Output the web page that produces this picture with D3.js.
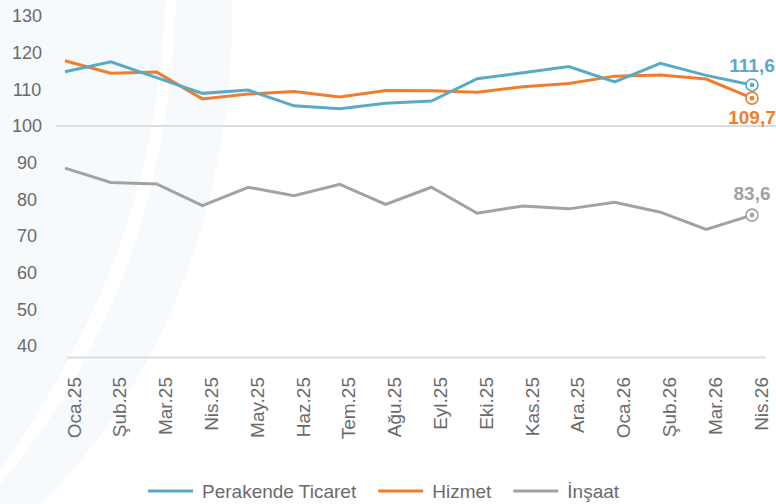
<!DOCTYPE html>
<html>
<head>
<meta charset="utf-8">
<script src="https://cdn.jsdelivr.net/npm/d3@7"></script>
<style>
    html, body { margin: 0; padding: 0; background: #fff; }
    svg { display: block; font-family: "Liberation Sans", Arial, sans-serif; }
</style>
</head>
<body>
<svg id="chart" width="776" height="504"></svg>
<script>
const months = ["Oca.25", "Şub.25", "Mar.25", "Nis.25", "May.25", "Haz.25", "Tem.25", "Ağu.25",
    "Eyl.25", "Eki.25", "Kas.25", "Ara.25", "Oca.26", "Şub.26", "Mar.26", "Nis.26"];

const perakende = [114.8, 117.5, 113.2, 108.9, 109.8, 105.5, 104.7, 106.2, 106.8, 112.9, 114.5, 116.2, 112.0, 117.1, 113.8, 111.2];
const hizmet = [117.8, 114.4, 114.7, 107.4, 108.7, 109.4, 107.9, 109.7, 109.6, 109.2, 110.7, 111.6, 113.6, 113.9, 112.8, 107.6];
const insaat = [88.5, 84.6, 84.2, 78.3, 83.3, 81.0, 84.1, 78.6, 83.3, 76.2, 78.2, 77.4, 79.2, 76.5, 71.8, 75.7];

const seriesNames = ["Perakende Ticaret", "Hizmet", "İnşaat"];
const lastLabels = ["111,6", "109,7", "83,6"];
const yTicks = [40, 50, 60, 70, 80, 90, 100, 110, 120, 130];

const COLORS = ["#59aac6", "#f07d2d", "#a2a2a2"];
const TEXT_COLOR = "#6a6a6a";
const LABEL_DY = [-13, 26, -15];

const svg = d3.select("#chart");

// faint logo watermark behind the plot
const watermark = svg.append("g").attr("fill", "#f6fafc");
watermark.append("path").attr("d", "M0,0 L165,0 C160,150 120,300 0,470 Z");
watermark.append("path").attr("d", "M176,0 L232,0 C236,180 170,380 40,504 L0,504 L0,485 C120,340 170,180 176,0 Z");

const x = d3.scalePoint()
    .domain(months)
    .range([65, 752]);

const y = d3.scaleLinear()
    .domain([37, 133])
    .range([357, 5]);

// reference line at 100
svg.append("line")
    .attr("x1", 56)
    .attr("x2", 776)
    .attr("y1", y(100))
    .attr("y2", y(100))
    .attr("stroke", "#dcdcdc")
    .attr("stroke-width", 2);

// bottom axis line
svg.append("line")
    .attr("x1", 67)
    .attr("x2", 766)
    .attr("y1", 357.5)
    .attr("y2", 357.5)
    .attr("stroke", "#dcdcdc")
    .attr("stroke-width", 2);

svg.append("g")
    .selectAll("text")
    .data(yTicks)
    .join("text")
    .attr("x", 27)
    .attr("y", d => y(d))
    .attr("dy", "0.35em")
    .attr("text-anchor", "middle")
    .attr("font-size", 18)
    .attr("fill", TEXT_COLOR)
    .text(d => d);

svg.append("g")
    .selectAll("text")
    .data(months)
    .join("text")
    .attr("transform", d => `translate(${ x(d) + 9 }, 377) rotate(-90)`)
    .attr("dy", "0.35em")
    .attr("text-anchor", "end")
    .attr("font-size", 19)
    .attr("fill", TEXT_COLOR)
    .text(d => d);

const series = [perakende, hizmet, insaat].map((values, i) => ({
    name: seriesNames[i],
    values,
    color: COLORS[i],
    label: lastLabels[i],
    dy: LABEL_DY[i]
}));

const line = d3.line()
    .x((d, i) => x(months[i]))
    .y(d => y(d));

// draw grey first so the coloured series sit on top
const drawOrder = [series[2], series[1], series[0]];

svg.append("g")
    .selectAll("path")
    .data(drawOrder)
    .join("path")
    .attr("d", d => line(d.values))
    .attr("fill", "none")
    .attr("stroke", d => d.color)
    .attr("stroke-width", 3);

const ends = svg.append("g")
    .selectAll("g")
    .data(drawOrder)
    .join("g")
    .attr("transform", d => `translate(${ x(months[months.length - 1]) }, ${ y(d.values[d.values.length - 1]) })`);

ends.append("circle")
    .attr("r", 6)
    .attr("fill", "#fff")
    .attr("stroke", d => d.color)
    .attr("stroke-width", 1.6);

ends.append("circle")
    .attr("r", 2.3)
    .attr("fill", d => d.color);

ends.append("text")
    .attr("y", d => d.dy)
    .attr("text-anchor", "middle")
    .attr("font-size", 19)
    .attr("font-weight", "bold")
    .attr("fill", d => d.color)
    .text(d => d.label);

// legend
const legend = svg.append("g").attr("transform", "translate(148, 491)");
let offset = 0;
series.forEach(s => {
    const item = legend.append("g").attr("transform", `translate(${ offset }, 0)`);
    item.append("line")
        .attr("x1", 0)
        .attr("x2", 45)
        .attr("stroke", s.color)
        .attr("stroke-width", 3);
    const label = item.append("text")
        .attr("x", 54)
        .attr("dy", "0.35em")
        .attr("font-size", 19)
        .attr("fill", TEXT_COLOR)
        .text(s.name);
    offset += 54 + label.node().getComputedTextLength() + 22;
});
</script>
</body>
</html>
